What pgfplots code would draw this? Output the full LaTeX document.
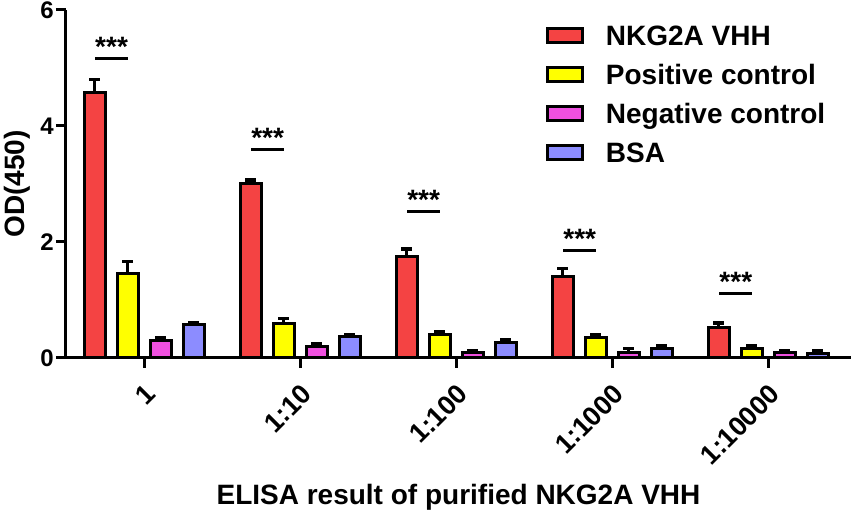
\documentclass[border=0pt]{standalone}
\usepackage{pgfplots}
\pgfplotsset{compat=1.18}
\usepackage{fontspec}
\setmainfont{Liberation Sans}
\definecolor{cred}{RGB}{244,67,67}
\definecolor{cyel}{RGB}{255,255,0}
\definecolor{cmag}{RGB}{240,80,224}
\definecolor{cblu}{RGB}{140,140,255}
\tikzset{stars/.style={anchor=base, inner sep=0pt, font=\bfseries\fontsize{28}{28}\selectfont, yshift=2pt}}
\begin{document}
\begin{tikzpicture}
\begin{axis}[
  name=ax,
  scale only axis, width=785pt, height=348pt,
  xmin=-0.5, xmax=4.53, ymin=0, ymax=6,
  axis lines*=left,
  axis line style={line width=3pt, black},
  clip=false,
  ybar=12pt, bar width=21pt,
  tick align=outside, major tick length=10pt,
  tick style={line width=3pt, black},
  xtick={0,1,2,3,4},
  xticklabels={1,1:10,1:100,1:1000,1:10000},
  ytick={0,2,4,6},
  yticklabels={0,2,4,6},
  xticklabel style={font=\bfseries\fontsize{27}{27}\selectfont, rotate=45, anchor=east, yshift=-20pt, xshift=-7pt},
  yticklabel style={font=\bfseries\fontsize{24}{24}\selectfont, inner sep=2pt},
  xlabel={ELISA result of purified NKG2A VHH},
  xlabel style={font=\bfseries\fontsize{28}{28}\selectfont, at={(axis description cs:0.5,0)}, anchor=base, yshift=-147pt, inner sep=0pt},
  ylabel={OD(450)},
  ylabel style={font=\bfseries\fontsize{28}{28}\selectfont, at={(axis description cs:-0.0535,0.5)}, anchor=base, inner sep=0pt},
  legend style={draw=none, fill=none, inner sep=0pt, outer sep=0pt,
    at={(axis cs:2.575,5.73)}, anchor=north west,
    font=\bfseries\fontsize{28}{28}\selectfont,
    nodes={inner sep=0pt, text height=20pt, text depth=0pt},
    row sep=19pt,
    /tikz/every odd column/.append style={column sep=22pt}},
  legend cell align=left,
  legend image code/.code={\draw[#1, line width=3pt] (0pt,-7pt) rectangle (35pt,7pt);},
  error bars/y dir=plus, error bars/y explicit,
  error bars/error bar style={line width=3pt, black},
  error bars/error mark=-,
  error bars/error mark options={rotate=90, line width=3.5pt, black, mark size=5.5pt},
]
\addplot[fill=cred, draw=black, line width=3pt] coordinates {
  (0,4.57) +- (0,0.23)
  (1,3.00) +- (0,0.07)
  (2,1.75) +- (0,0.13)
  (3,1.40) +- (0,0.14)
  (4,0.53) +- (0,0.07)};
\addplot[fill=cyel, draw=black, line width=3pt] coordinates {
  (0,1.46) +- (0,0.20)
  (1,0.59) +- (0,0.09)
  (2,0.40) +- (0,0.06)
  (3,0.35) +- (0,0.05)
  (4,0.17) +- (0,0.04)};
\addplot[fill=cmag, draw=black, line width=3pt] coordinates {
  (0,0.31) +- (0,0.04)
  (1,0.19) +- (0,0.06)
  (2,0.10) +- (0,0.03)
  (3,0.10) +- (0,0.06)
  (4,0.09) +- (0,0.03)};
\addplot[fill=cblu, draw=black, line width=3pt] coordinates {
  (0,0.57) +- (0,0.03)
  (1,0.37) +- (0,0.03)
  (2,0.26) +- (0,0.06)
  (3,0.16) +- (0,0.05)
  (4,0.07) +- (0,0.06)};
\legend{NKG2A VHH, Positive control, Negative control, BSA}
\draw[line width=3pt] (axis cs:-0.314,5.16) -- (axis cs:-0.103,5.16);
\node[stars] at (axis cs:-0.208,5.16) {***};
\draw[line width=3pt] (axis cs:0.686,3.60) -- (axis cs:0.897,3.60);
\node[stars] at (axis cs:0.792,3.60) {***};
\draw[line width=3pt] (axis cs:1.686,2.53) -- (axis cs:1.897,2.53);
\node[stars] at (axis cs:1.792,2.53) {***};
\draw[line width=3pt] (axis cs:2.686,1.86) -- (axis cs:2.897,1.86);
\node[stars] at (axis cs:2.792,1.86) {***};
\draw[line width=3pt] (axis cs:3.686,1.12) -- (axis cs:3.897,1.12);
\node[stars] at (axis cs:3.792,1.12) {***};
\end{axis}
\pgfresetboundingbox
\path ([xshift=-66pt, yshift=-154pt]ax.south west) rectangle ([yshift=10pt]ax.north east);
\end{tikzpicture}
\end{document}
